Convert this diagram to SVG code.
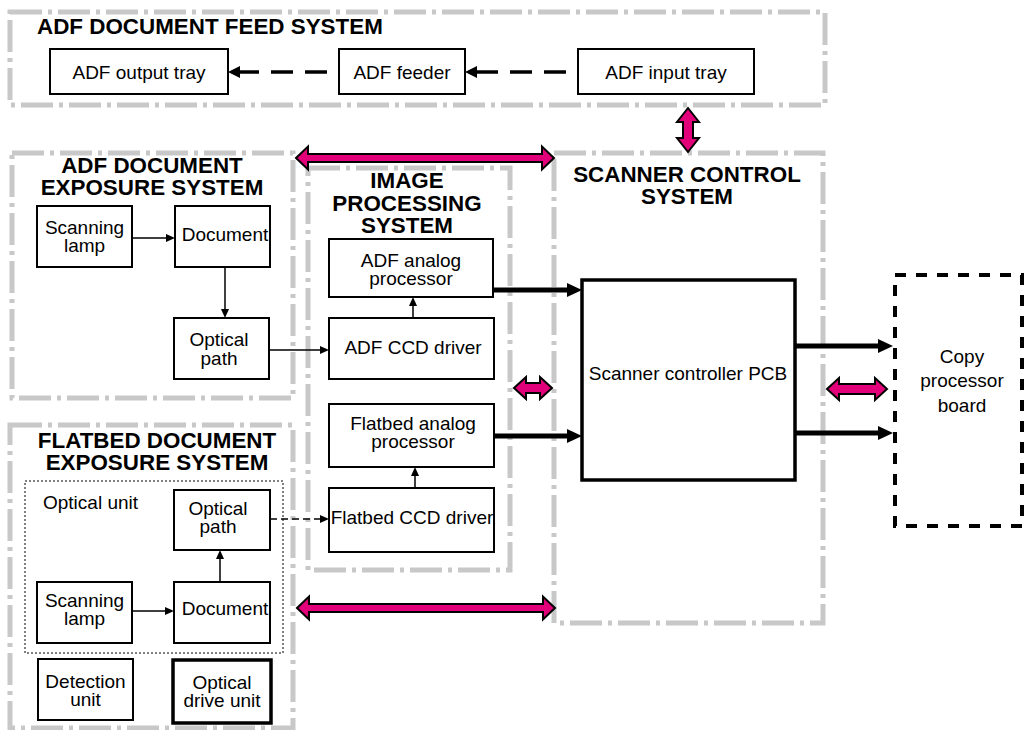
<svg xmlns="http://www.w3.org/2000/svg" width="1024" height="730" viewBox="0 0 1024 730">
<style>
.sys{fill:none;stroke:#c8c8c8;stroke-width:5;stroke-dasharray:32 6 4 6}
.box{fill:#fff;stroke:#000;stroke-width:2}
.thick{stroke-width:3.5}
.t{font-family:"Liberation Sans",Arial,Helvetica,sans-serif;font-size:19px;fill:#000;text-anchor:middle}
.h{font-family:"Liberation Sans",Arial,Helvetica,sans-serif;font-size:22.4px;font-weight:bold;fill:#000;text-anchor:middle}
.thin{stroke:#000;stroke-width:1.5;fill:none;marker-end:url(#ah)}
.dash{stroke-dasharray:7 4}
.fat{stroke:#000;stroke-width:5;fill:none;marker-end:url(#ahT)}
.feed{stroke:#000;stroke-width:3.3;fill:none;stroke-dasharray:22 12;marker-end:url(#ahF)}
.pink{fill:#e2007a;stroke:#000;stroke-width:2;stroke-linejoin:miter}
</style>
<defs>
<marker id="ah" markerUnits="userSpaceOnUse" markerWidth="10" markerHeight="8" refX="3" refY="4" orient="auto"><path d="M0,0 L9,4 L0,8 z" fill="#000"/></marker>
<marker id="ahT" markerUnits="userSpaceOnUse" markerWidth="16" markerHeight="14" refX="3" refY="7" orient="auto"><path d="M0,0 L15,7 L0,14 z" fill="#000"/></marker>
<marker id="ahF" markerUnits="userSpaceOnUse" markerWidth="13" markerHeight="12" refX="2" refY="6" orient="auto"><path d="M0,0 L12,6 L0,12 z" fill="#000"/></marker>
</defs>
<rect width="1024" height="730" fill="#fff"/>

<g id="systems">
<g id="feed-system"><rect class="sys" x="10" y="12" width="815" height="93"/><text class="h" x="37" y="34" style="text-anchor:start">ADF DOCUMENT FEED SYSTEM</text></g>
<g id="adf-exposure-system"><rect class="sys" x="12" y="153" width="281" height="245"/><text class="h" x="152" y="173">ADF DOCUMENT</text><text class="h" x="152" y="195">EXPOSURE SYSTEM</text></g>
<g id="flatbed-exposure-system"><rect class="sys" x="10" y="425" width="283" height="303"/><text class="h" x="157" y="448">FLATBED DOCUMENT</text><text class="h" x="157" y="470">EXPOSURE SYSTEM</text></g>
<g id="image-processing-system"><rect class="sys" x="308" y="168" width="202" height="402"/><text class="h" x="407" y="188">IMAGE</text><text class="h" x="407" y="211">PROCESSING</text><text class="h" x="407" y="233">SYSTEM</text></g>
<g id="scanner-control-system"><rect class="sys" x="554" y="153" width="269" height="470"/><text class="h" x="687" y="182">SCANNER CONTROL</text><text class="h" x="687" y="204">SYSTEM</text></g>
</g>

<g id="adf-output-tray"><rect class="box" x="50" y="49" width="178" height="45"/><text class="t" x="139" y="79">ADF output tray</text></g>
<g id="adf-feeder"><rect class="box" x="339" y="49" width="126" height="45"/><text class="t" x="402" y="79">ADF feeder</text></g>
<g id="adf-input-tray"><rect class="box" x="578" y="49" width="176" height="45"/><text class="t" x="666" y="79">ADF input tray</text></g>

<g id="adf-scanning-lamp"><rect class="box" x="37" y="206" width="95" height="61"/><text class="t" x="84.5" y="234">Scanning</text><text class="t" x="84.5" y="252">lamp</text></g>
<g id="adf-document"><rect class="box" x="175" y="206" width="95" height="61"/><text class="t" x="225" y="241">Document</text></g>
<g id="adf-optical-path"><rect class="box" x="174" y="318" width="95" height="61"/><text class="t" x="219" y="346">Optical</text><text class="t" x="219" y="365">path</text></g>

<g id="adf-analog-processor"><rect class="box" x="329" y="239" width="164" height="58"/><text class="t" x="411" y="267">ADF analog</text><text class="t" x="411" y="285">processor</text></g>
<g id="adf-ccd-driver"><rect class="box" x="329" y="318" width="165" height="61"/><text class="t" x="413" y="354">ADF CCD driver</text></g>
<g id="flatbed-analog-processor"><rect class="box" x="329" y="404" width="165" height="63"/><text class="t" x="413" y="430">Flatbed analog</text><text class="t" x="413" y="448">processor</text></g>
<g id="flatbed-ccd-driver"><rect class="box" x="329" y="488" width="165" height="64"/><text class="t" x="412" y="524">Flatbed CCD driver</text></g>

<g id="scanner-controller-pcb"><rect class="box thick" x="582" y="280" width="213" height="200"/><text class="t" x="688" y="380">Scanner controller PCB</text></g>
<g id="copy-processor-board"><rect x="895" y="275" width="127" height="251" fill="#fff" stroke="#000" stroke-width="4" stroke-dasharray="11 10"/><text class="t" x="962" y="363">Copy</text><text class="t" x="962" y="387">processor</text><text class="t" x="962" y="412">board</text></g>

<g id="optical-unit"><rect x="25" y="481" width="258" height="172" fill="none" stroke="#000" stroke-width="1" stroke-dasharray="2 2"/><text class="t" x="43" y="509" style="text-anchor:start">Optical unit</text></g>
<g id="flatbed-optical-path"><rect class="box" x="174" y="490" width="96" height="60"/><text class="t" x="218" y="515">Optical</text><text class="t" x="218" y="533">path</text></g>
<g id="flatbed-document"><rect class="box" x="174" y="582" width="96" height="61"/><text class="t" x="225" y="615">Document</text></g>
<g id="flatbed-scanning-lamp"><rect class="box" x="37" y="582" width="95" height="61"/><text class="t" x="84.5" y="607">Scanning</text><text class="t" x="84.5" y="625">lamp</text></g>
<g id="detection-unit"><rect class="box" x="38" y="659" width="95" height="61"/><text class="t" x="85.5" y="688">Detection</text><text class="t" x="85.5" y="706">unit</text></g>
<g id="optical-drive-unit"><rect class="box thick" x="173" y="660" width="98" height="63"/><text class="t" x="222" y="689">Optical</text><text class="t" x="222" y="707">drive unit</text></g>

<g id="connectors">
<line class="feed" x1="327" y1="72" x2="238" y2="72"/>
<line class="feed" x1="566" y1="72" x2="475" y2="72"/>
<line class="thin" x1="132" y1="238" x2="169" y2="238"/>
<line class="thin" x1="225" y1="267" x2="225" y2="312"/>
<line class="thin" x1="269" y1="350" x2="323" y2="350"/>
<line class="thin" x1="413" y1="318" x2="413" y2="303"/>
<line class="thin" x1="415" y1="488" x2="415" y2="473"/>
<line class="thin" x1="132" y1="611" x2="168" y2="611"/>
<line class="thin" x1="220" y1="582" x2="220" y2="556"/>
<line class="thin dash" x1="270" y1="519" x2="323" y2="519"/>
<line class="fat" x1="494" y1="290" x2="570" y2="290"/>
<line class="fat" x1="494" y1="436" x2="570" y2="436"/>
<line class="fat" x1="796" y1="346" x2="881" y2="346"/>
<line class="fat" x1="796" y1="433" x2="881" y2="433"/>
<polygon class="pink" points="296,158 308,146.5 308,154 542,154 542,146.5 554,158 542,169.5 542,162 308,162 308,169.5"/>
<polygon class="pink" points="297,608 309,596.5 309,604 543,604 543,596.5 555,608 543,619.5 543,612 309,612 309,619.5"/>
<polygon class="pink" points="514,388 526,377 526,383 540,383 540,377 552,388 540,399 540,393 526,393 526,399"/>
<polygon class="pink" points="827,389 839,378 839,384 875,384 875,378 887,389 875,400 875,394 839,394 839,400"/>
<polygon class="pink" points="688,108 699,122 693,122 693,138 699,138 688,152 677,138 683,138 683,122 677,122"/>
</g>
</svg>
